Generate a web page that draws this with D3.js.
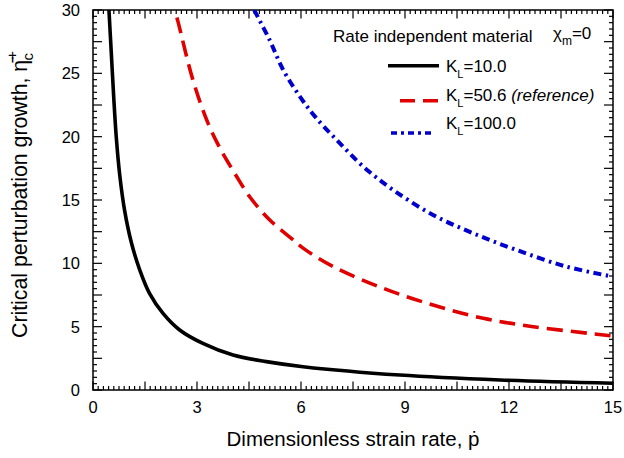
<!DOCTYPE html>
<html><head><meta charset="utf-8">
<script src="https://cdn.jsdelivr.net/npm/d3@7"></script>
<style>
html,body{margin:0;padding:0;background:#fff;}
text{font-family:"Liberation Sans",Arial,Helvetica,sans-serif;fill:#000;}
</style></head>
<body><svg id="c" width="624" height="458"></svg>
<script>
// ---- data ----
const xTickLabels = [0, 3, 6, 9, 12, 15];
const yTickLabels = [0, 5, 10, 15, 20, 25, 30];

const pK10   = [0.46, 0.53, 0.60, 0.67, 0.77, 0.91, 1.11, 1.35, 1.63, 2.02, 2.50, 3.17, 4.04, 5.00, 6.06, 8.85, 11.74, 15.0];
const etaK10 = [30.0, 26.5, 23.0, 20.0, 17.0, 14.2, 11.6, 9.47, 7.63, 6.05, 4.74, 3.68, 2.76, 2.24, 1.84, 1.18, 0.79, 0.53];

const pK50   = [2.36, 2.45, 2.88, 3.32, 3.70, 4.09, 4.52, 5.10, 5.72, 6.07, 6.93, 8.37, 9.81, 11.26, 12.7, 15.0];
const etaK50 = [30.0, 29.1, 24.5, 21.05, 18.9, 17.1, 15.26, 13.42, 11.97, 11.18, 9.74, 8.03, 6.71, 5.66, 5.00, 4.26];

const pK100   = [4.65, 5.10, 5.48, 5.96, 6.40, 7.03, 7.80, 8.66, 9.81, 10.97, 12.22, 13.66, 15.0];
const etaK100 = [30.0, 27.6, 25.3, 23.2, 21.6, 19.74, 17.63, 15.79, 13.82, 12.37, 11.05, 9.74, 8.95];

const seriesNames = ["10.0", "50.6", "100.0"];

// ---- layout ----
const L = 93, R = 613, T = 10, B = 390;
const svg = d3.select("#c");
const x = d3.scaleLinear().domain([0, 15]).range([L, R]);
const y = d3.scaleLinear().domain([0, 30]).range([B, T]);

svg.append("defs").append("clipPath").attr("id", "clip")
  .append("rect").attr("x", L).attr("y", T).attr("width", R - L).attr("height", B - T);

// ---- ticks (inward, all four sides) ----
const xMinor = d3.range(0, 101).map(i => +(i * 0.15).toFixed(3));
const xMajor = d3.range(0, 11).map(i => +(i * 1.5).toFixed(3));
const yMinor = d3.range(0, 61).map(i => i * 0.5);
const yMajor = d3.range(0, 13).map(i => i * 2.5);

function isIn(arr, v) { return arr.some(a => Math.abs(a - v) < 1e-6); }

const tg = svg.append("g").attr("stroke", "#000").attr("stroke-width", 1.2);
xMinor.forEach(v => {
  const len = isIn(xMajor, v) ? 8.5 : 4;
  const px = x(v);
  tg.append("line").attr("x1", px).attr("x2", px).attr("y1", B).attr("y2", B - len);
  tg.append("line").attr("x1", px).attr("x2", px).attr("y1", T).attr("y2", T + len);
});
yMinor.forEach(v => {
  const len = isIn(yMajor, v) ? 9 : 4;
  const py = y(v);
  tg.append("line").attr("y1", py).attr("y2", py).attr("x1", L).attr("x2", L + len);
  tg.append("line").attr("y1", py).attr("y2", py).attr("x1", R).attr("x2", R - len);
});

// frame
svg.append("rect").attr("x", L).attr("y", T).attr("width", R - L).attr("height", B - T)
  .attr("fill", "none").attr("stroke", "#000").attr("stroke-width", 1.5);

// tick labels
svg.append("g").selectAll("text").data(xTickLabels).join("text")
  .attr("x", d => x(d)).attr("y", 413).attr("text-anchor", "middle")
  .attr("font-size", 16.5).text(d => d);
svg.append("g").selectAll("text").data(yTickLabels).join("text")
  .attr("x", 80).attr("y", d => y(d)).attr("dy", "0.36em").attr("text-anchor", "end")
  .attr("font-size", 16.5).text(d => d);

// axis titles
svg.append("text").attr("x", (L + R) / 2).attr("y", 446).attr("text-anchor", "middle")
  .attr("font-size", 20.5).text("Dimensionless strain rate, \u1E57");

const yt = svg.append("text").attr("transform", "translate(27,338) rotate(-90)")
  .attr("font-size", 21.3);
yt.append("tspan").text("Critical perturbation growth, \u03B7\u0304");
yt.append("tspan").attr("font-size", 15).attr("dy", -10).text("+");
yt.append("tspan").attr("font-size", 15).attr("dx", -9.5).attr("dy", 16).text("c");

// ---- curves ----
const line = d3.line().x(d => x(d[0])).y(d => y(d[1])).curve(d3.curveCatmullRom.alpha(0.5));
const cg = svg.append("g").attr("clip-path", "url(#clip)").attr("fill", "none");

const series = [
  { p: pK10, e: etaK10, color: "#000000", dash: null, off: 0, w: 3.6 },
  { p: pK50, e: etaK50, color: "#e00000", dash: "16,8", off: 16, w: 3.6 },
  { p: pK100, e: etaK100, color: "#0000cc", dash: "8,4.5,2.5,4.5", off: 0, w: 4 }
];
series.forEach(s => {
  const pts = s.p.map((v, i) => [v, s.e[i]]);
  cg.append("path").attr("d", line(pts)).attr("stroke", s.color)
    .attr("stroke-width", s.w).attr("stroke-dasharray", s.dash)
    .attr("stroke-dashoffset", s.off);
});

// ---- legend ----
svg.append("text").attr("x", 333).attr("y", 41.5).attr("font-size", 17)
  .text("Rate independent material");
const chi = svg.append("text").attr("x", 553).attr("y", 39).attr("font-size", 17);
chi.append("tspan").text("\u03C7");
chi.append("tspan").attr("font-size", 12).attr("dy", 6).text("m");
chi.append("tspan").attr("dy", -6).text("=0");

const legRows = [
  { ly: 65.7, x1: 388, x2: 439, ty: 72 },
  { ly: 100.7, x1: 400, x2: 438, ty: 100.5 },
  { ly: 133, x1: 391, x2: 434, ty: 129 }
];
series.forEach((s, i) => {
  const r = legRows[i];
  svg.append("line").attr("x1", r.x1).attr("x2", r.x2).attr("y1", r.ly).attr("y2", r.ly)
    .attr("stroke", s.color).attr("stroke-width", 3.4)
    .attr("stroke-dasharray", i === 1 ? "15,8" : (i === 2 ? "6,4,3,4" : null));
  const t = svg.append("text").attr("x", 446).attr("y", r.ty).attr("font-size", 17);
  t.append("tspan").text("K");
  t.append("tspan").attr("font-size", 11).attr("dy", 6).text("L");
  t.append("tspan").attr("dy", -6).text("=" + seriesNames[i]);
  if (i === 1) t.append("tspan").attr("font-style", "italic").text(" (reference)");
});
</script></body></html>
